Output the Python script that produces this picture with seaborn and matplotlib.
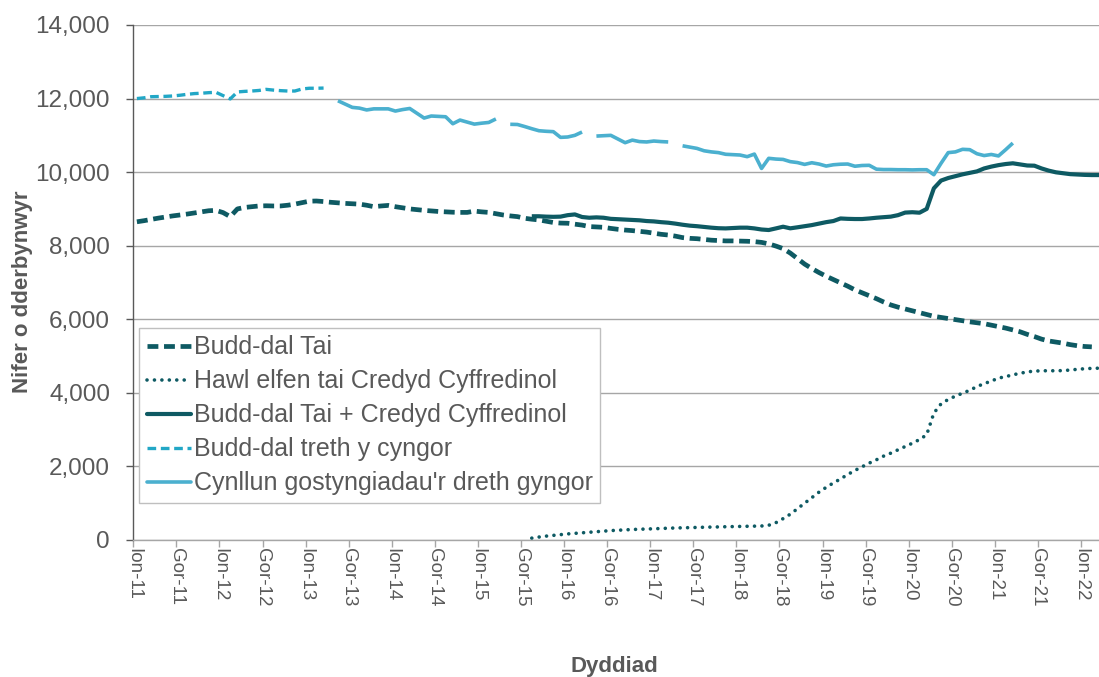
import numpy as np
import pandas as pd
import matplotlib
matplotlib.use("Agg")
import matplotlib.pyplot as plt
from matplotlib.lines import Line2D
from matplotlib.ticker import FuncFormatter
import seaborn as sns

# month index 0 = Jan 2011, one value per month
HB_START = 0
budd_dal_tai = [
    8650, 8680, 8715, 8750, 8780, 8810, 8835, 8860, 8890, 8920,
    8950, 8960, 8900, 8790, 9000, 9040, 9060, 9080, 9085, 9080,
    9080, 9100, 9130, 9170, 9210, 9215, 9200, 9180, 9165, 9150,
    9140, 9130, 9100, 9060, 9080, 9095, 9060, 9030, 9000, 8980,
    8960, 8945, 8930, 8920, 8910, 8905, 8905, 8940, 8920, 8905,
    8870, 8835, 8810, 8790, 8745, 8720, 8700, 8665, 8630, 8615,
    8610, 8585, 8560, 8520, 8510, 8500, 8470, 8445, 8425, 8410,
    8390, 8370, 8340, 8310, 8290, 8260, 8220, 8200, 8190, 8170,
    8150, 8140, 8130, 8130, 8125, 8120, 8110, 8090, 8050, 7990,
    7920, 7800, 7650, 7500, 7380, 7270, 7170, 7080, 6990, 6900,
    6800, 6720, 6640, 6560, 6470, 6390, 6330, 6280, 6230, 6180,
    6130, 6080, 6050, 6020, 5990, 5960, 5930, 5905, 5880, 5840,
    5800, 5760, 5710, 5660, 5590, 5530, 5460, 5410, 5380, 5350,
    5310, 5280, 5260, 5250,
]

UC_START = 55
hawl_elfen_tai = [
    50, 80, 105, 125, 145, 165, 180, 195, 210, 225,
    240, 255, 265, 275, 285, 292, 298, 305, 312, 320,
    326, 331, 336, 341, 346, 351, 355, 360, 364, 368,
    372, 376, 380, 400, 470, 580, 700, 850, 1000, 1150,
    1300, 1430, 1550, 1660, 1780, 1890, 1990, 2090, 2180, 2280,
    2360, 2450, 2540, 2630, 2730, 2860, 3450, 3700, 3820, 3910,
    3990, 4070, 4170, 4250, 4320, 4400, 4440, 4490, 4530, 4570,
    4590, 4600, 4600, 4600, 4605, 4620, 4640, 4655, 4665, 4670,
]

budd_dal_plus_uc = [
    8800, 8800, 8790, 8785, 8790, 8830, 8850, 8780, 8760, 8770,
    8760, 8730, 8720, 8710, 8700, 8690, 8670, 8660, 8640, 8625,
    8600, 8570, 8545, 8530, 8510, 8490, 8475, 8470, 8480, 8490,
    8490, 8470, 8440, 8426, 8470, 8516, 8472, 8500, 8530, 8560,
    8600, 8640, 8670, 8740, 8730, 8725, 8725, 8740, 8760, 8775,
    8790, 8830, 8900, 8910, 8897, 9000, 9560, 9770, 9840, 9890,
    9940, 9980, 10020, 10100, 10150, 10190, 10220, 10240, 10210, 10180,
    10175, 10100, 10040, 9995, 9970, 9945, 9935, 9925, 9920, 9920,
]

CTB_START = 0
budd_dal_treth = [
    12000, 12020, 12050, 12055, 12060, 12070, 12090, 12115, 12135, 12145,
    12160, 12170, 12080, 11990, 12180, 12195, 12205, 12220, 12250, 12230,
    12215, 12205, 12205, 12260, 12280, 12280, 12285,
]

CTRS_START = 28
cynllun_gostyngiadau = [
    11940, 11850, 11760, 11740, 11690, 11720, 11720, 11720, 11660, 11700,
    11730, 11600, 11470, 11525, 11515, 11505, 11315, 11415, 11360, 11305,
    11330, 11350, 11445, None, 11300, 11295, 11240, 11180, 11125, 11110,
    11100, 10945, 10955, 11000, 11090, None, 10980, 10990, 11000, 10900,
    10800, 10870, 10830, 10820, 10845, 10830, 10820, None, 10715, 10680,
    10645, 10580, 10550, 10530, 10485, 10475, 10465, 10420, 10490, 10100,
    10375, 10355, 10345, 10285, 10260, 10210, 10255, 10220, 10165, 10200,
    10215, 10220, 10160, 10180, 10185, 10080, 10070, 10070, 10065, 10065,
    10060, 10065, 10065, 9930, 10240, 10530, 10550, 10620, 10610, 10500,
    10450, 10480, 10440, 10610, 10790,
]

tick_labels = [
    "Ion-11", "Gor-11", "Ion-12", "Gor-12", "Ion-13", "Gor-13", "Ion-14",
    "Gor-14", "Ion-15", "Gor-15", "Ion-16", "Gor-16", "Ion-17", "Gor-17",
    "Ion-18", "Gor-18", "Ion-19", "Gor-19", "Ion-20", "Gor-20", "Ion-21",
    "Gor-21", "Ion-22",
]

series_names = [
    "Budd-dal Tai",
    "Hawl elfen tai Credyd Cyffredinol",
    "Budd-dal Tai + Credyd Cyffredinol",
    "Budd-dal treth y cyngor",
    "Cynllun gostyngiadau'r dreth gyngor",
]

DARK = "#0e5a63"
CTB_COL = "#22a7c6"
CTRS_COL = "#4bb0cf"
TXT = "#595959"
GRID = "#a6a6a6"


def series_frame(values, start):
    df = pd.DataFrame({"value": pd.array(values, dtype="Float64")})
    df["x"] = np.arange(start, start + len(values)) + 0.5
    df["seg"] = df["value"].isna().cumsum()
    df = df.dropna().astype({"value": float})
    return df


sns.set_style("white")
plt.rcParams["font.family"] = ["Liberation Sans", "DejaVu Sans"]
plt.rcParams["text.color"] = TXT

fig = plt.figure(figsize=(10.99, 6.77), dpi=100)
ax = fig.add_axes([0.1213, 0.2024, 0.8787, 0.7607])

styles = [
    dict(color=DARK, lw=3.4, ls=(0, (2.3, 1.2))),
    dict(color=DARK, lw=2.6, ls=(0, (0.01, 2.05)), dash_capstyle="round"),
    dict(color=DARK, lw=3.0, ls="-"),
    dict(color=CTB_COL, lw=2.4, ls=(0, (2.6, 1.4))),
    dict(color=CTRS_COL, lw=2.6, ls="-"),
]
frames = [
    series_frame(budd_dal_tai, HB_START),
    series_frame(hawl_elfen_tai, UC_START),
    series_frame(budd_dal_plus_uc, UC_START),
    series_frame(budd_dal_treth, CTB_START),
    series_frame(cynllun_gostyngiadau, CTRS_START),
]

# light lines first, dark ones on top
for i in [4, 3, 0, 1, 2]:
    st = styles[i]
    sns.lineplot(
        data=frames[i], x="x", y="value", units="seg", estimator=None,
        color=st["color"], linewidth=st["lw"], linestyle=st["ls"],
        dash_capstyle=st.get("dash_capstyle", "butt"),
        solid_capstyle="butt", ax=ax, legend=False,
    )

ax.set_xlim(0, 134.5)
ax.set_ylim(0, 14000)
ax.set_yticks(np.arange(0, 14001, 2000))
ax.yaxis.set_major_formatter(FuncFormatter(lambda v, p: f"{v:,.0f}"))
ax.set_xticks(np.arange(0, 133, 6))
ax.set_xticklabels(tick_labels, rotation=-90)

ax.yaxis.grid(True, color=GRID, linewidth=1.0)
ax.set_axisbelow(True)
for s in ["top", "right"]:
    ax.spines[s].set_visible(False)
ax.spines["left"].set_color("#595959")
ax.spines["left"].set_linewidth(1.0)
ax.spines["bottom"].set_color(GRID)
ax.spines["bottom"].set_linewidth(1.0)
ax.tick_params(axis="y", which="both", left=True, length=4.7, width=1,
               color="#595959", labelsize=17.5, labelcolor=TXT, pad=12)
ax.tick_params(axis="x", which="both", bottom=True, length=5, width=1,
               color=GRID, labelsize=13.5, labelcolor=TXT, pad=1)

ax.set_xlabel("Dyddiad", fontsize=16, fontweight="bold", color=TXT)
ax.xaxis.set_label_coords(0.498, -0.225)
ax.set_ylabel("Nifer o dderbynwyr", fontsize=16, fontweight="bold", color=TXT)
ax.yaxis.set_label_coords(-0.104, 0.482)

handles = [
    Line2D([], [], color=st["color"], linewidth=st["lw"], linestyle=st["ls"],
           dash_capstyle=st.get("dash_capstyle", "butt"))
    for st in styles
]
leg = ax.legend(
    handles, series_names, loc="upper left", bbox_to_anchor=(0.006, 0.412),
    borderaxespad=0, frameon=True, fancybox=False, fontsize=18,
    handlelength=1.76, handletextpad=0.12, labelspacing=0.4,
    borderpad=0.3, framealpha=1,
)
leg.get_frame().set_edgecolor("#bfbfbf")
leg.get_frame().set_linewidth(1.0)
for t in leg.get_texts():
    t.set_color(TXT)

fig.savefig("out.png", dpi=100)
